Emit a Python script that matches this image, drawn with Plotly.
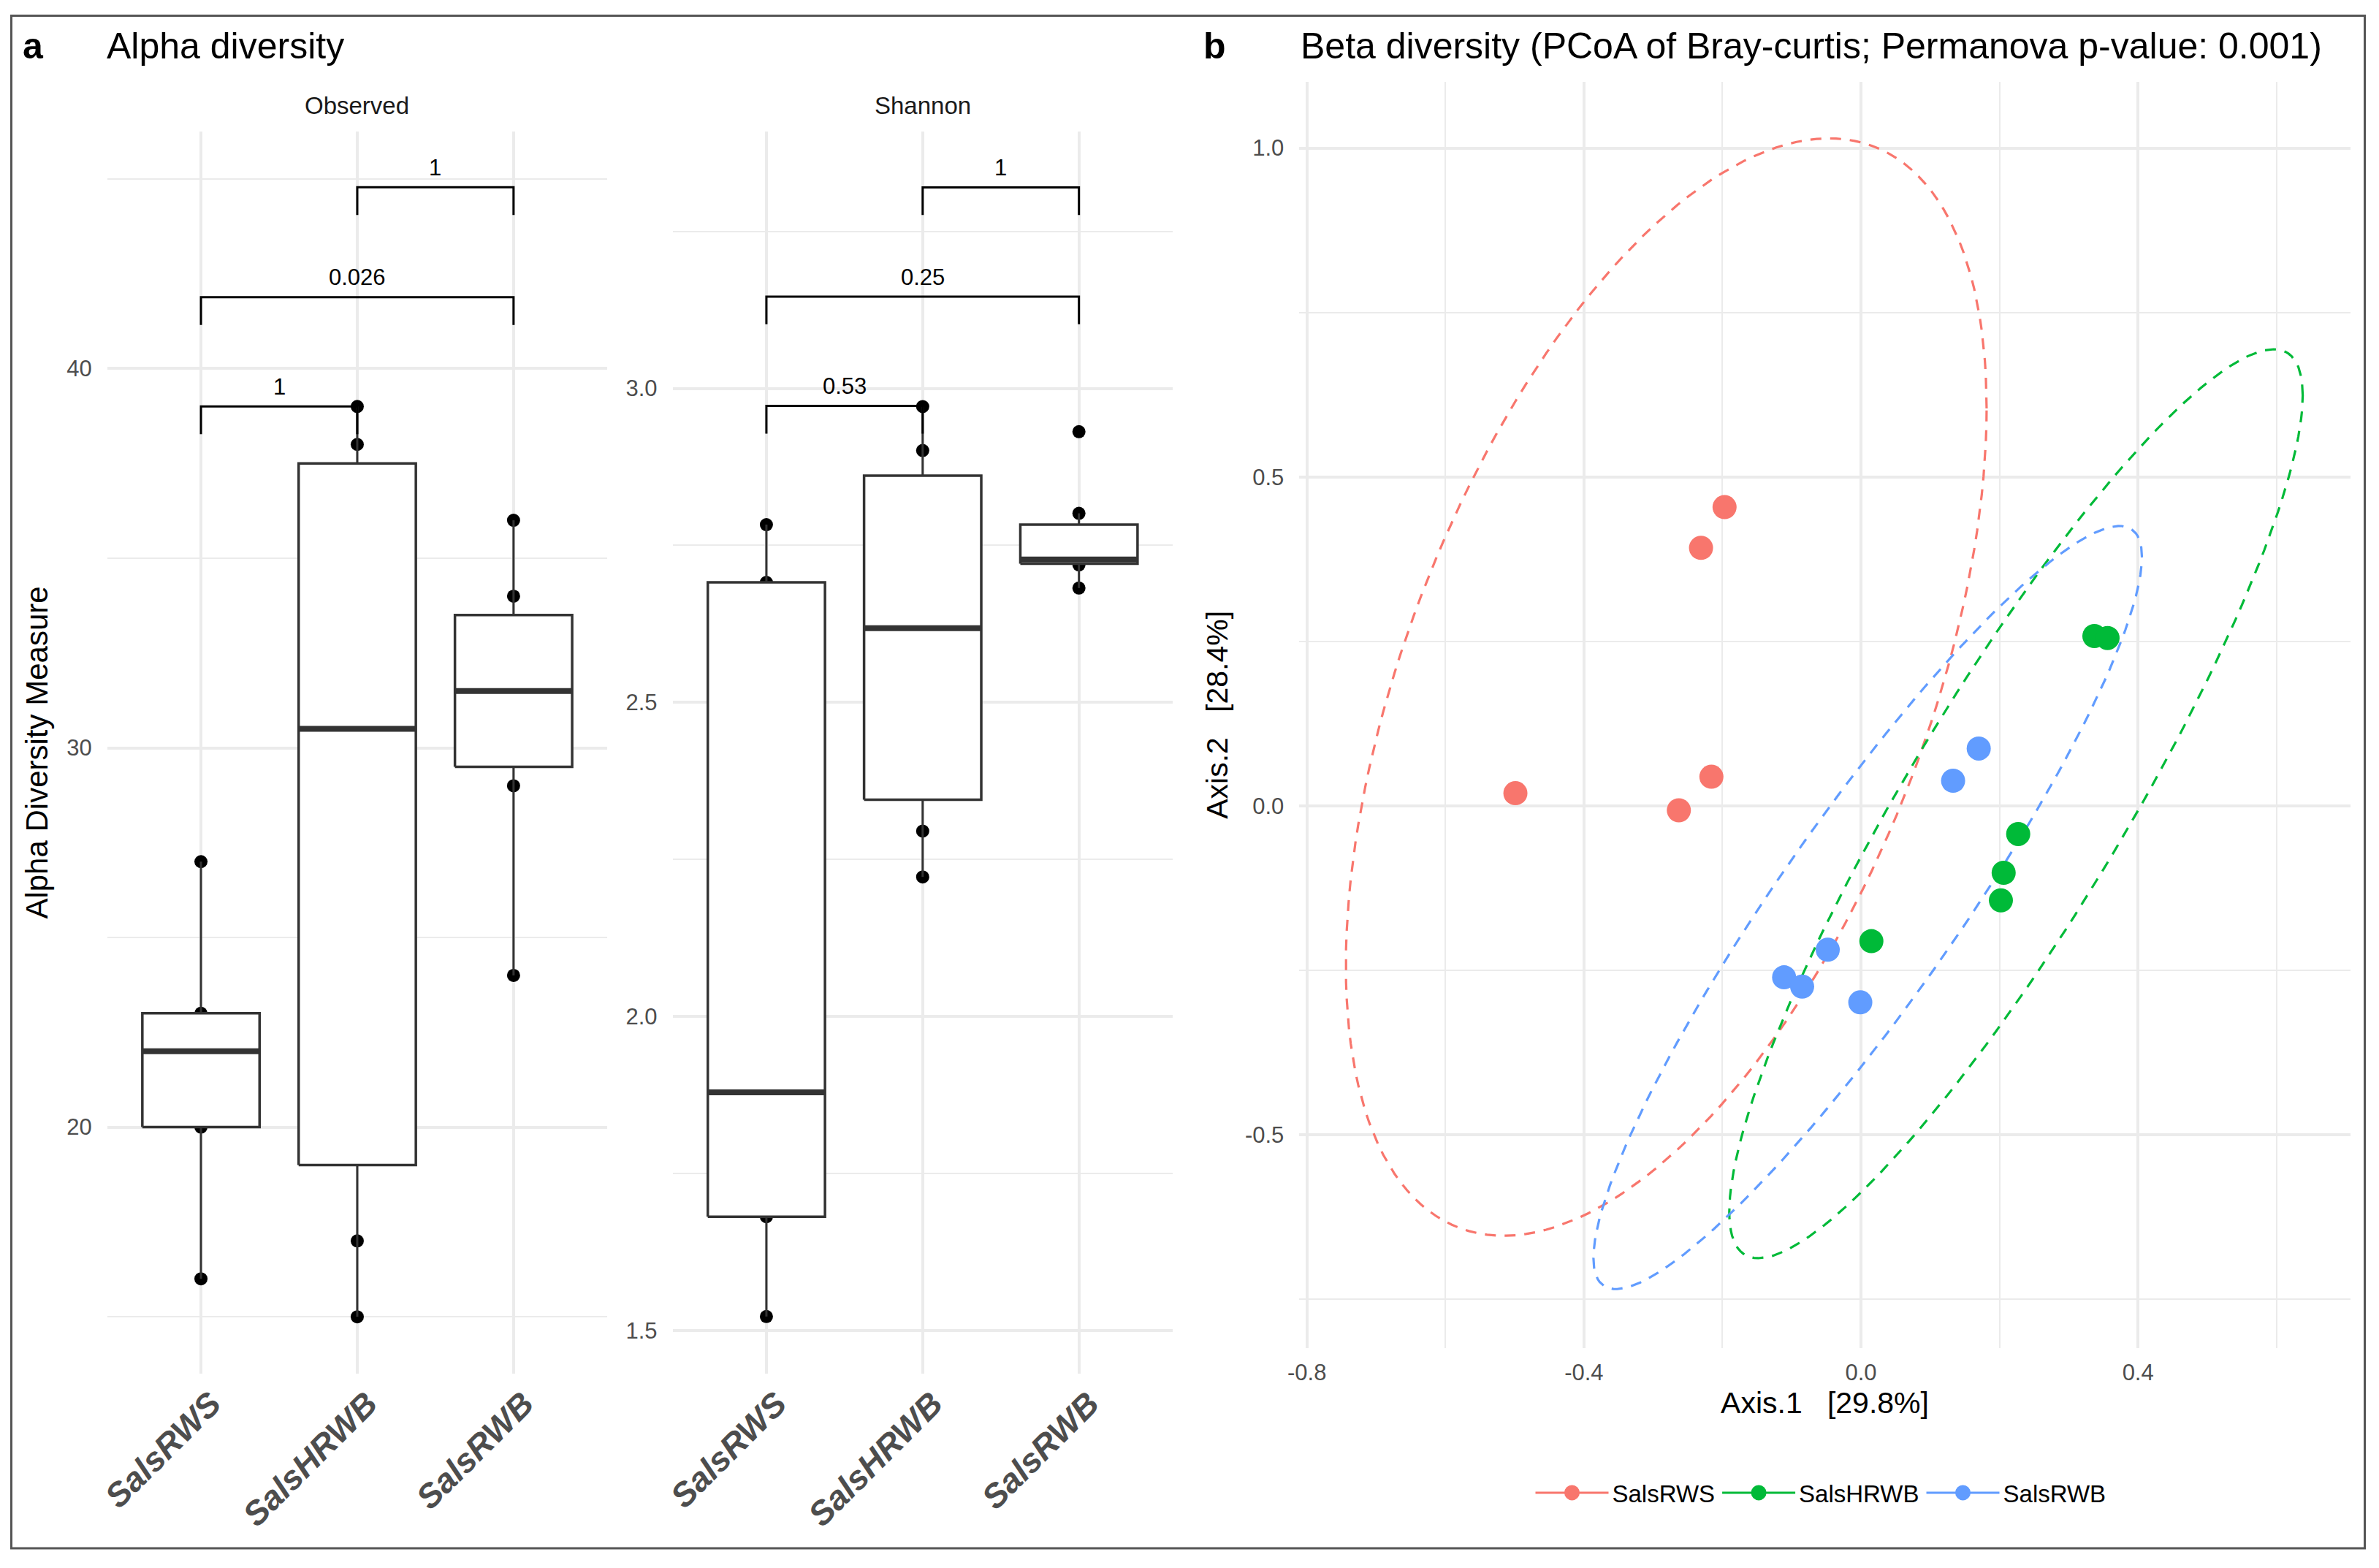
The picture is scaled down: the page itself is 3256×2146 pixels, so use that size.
import numpy as np
import plotly.graph_objects as go

W, H = 3256, 2146
FONT = "Liberation Sans, Arial, sans-serif"

# ---------------- data ----------------
groups = ["SalsRWS", "SalsHRWB", "SalsRWB"]
group_colors = ["#F8766D", "#00BA38", "#619CFF"]

# Alpha diversity: Observed richness per sample
observed_rws = [16, 20, 22, 23, 27]
observed_hrwb = [15, 17, 25, 36, 38, 39]
observed_rwb = [24, 29, 31, 32, 34, 36]

# Alpha diversity: Shannon index per sample
shannon_rws = [1.522, 1.681, 1.879, 2.691, 2.783]
shannon_hrwb = [2.222, 2.295, 2.495, 2.741, 2.901, 2.971]
shannon_rwb = [2.682, 2.719, 2.726, 2.729, 2.801, 2.931]

# Pairwise test brackets (group index pairs, bracket height, p-value label)
obs_pairs = [(1, 2), (1, 3), (2, 3)]
obs_bracket_y = [39.0, 41.88, 44.78]
obs_labels = ["1", "0.026", "1"]
sha_pairs = [(1, 2), (1, 3), (2, 3)]
sha_bracket_y = [2.972, 3.146, 3.32]
sha_labels = ["0.53", "0.25", "1"]

# Beta diversity: PCoA coordinates
pc1_rws = [-0.197, -0.231, -0.216, -0.263, -0.499]
pc2_rws = [0.454, 0.392, 0.044, -0.007, 0.019]
pc1_hrwb = [0.337, 0.356, 0.227, 0.206, 0.202, 0.015]
pc2_hrwb = [0.258, 0.255, -0.043, -0.102, -0.144, -0.206]
pc1_rwb = [0.170, 0.133, -0.048, -0.111, -0.085, -0.001]
pc2_rwb = [0.087, 0.038, -0.219, -0.261, -0.275, -0.299]

# 95% ellipse shape (scaled covariance) per group
ell_sxx = [0.2140, 0.1714, 0.1568]
ell_syy = [0.6960, 0.4775, 0.3366]
ell_sxy = [0.1960, 0.2570, 0.2110]

obs_ticks = [20, 30, 40]
obs_minor = [15, 25, 35, 45]
sha_ticks = [1.5, 2.0, 2.5, 3.0]
sha_minor = [1.75, 2.25, 2.75, 3.25]
pc1_ticks = [-0.8, -0.4, 0.0, 0.4]
pc1_ticktext = ["-0.8", "-0.4", "0.0", "0.4"]
pc1_minor = [-0.6, -0.2, 0.2, 0.6]
pc2_ticks = [-0.5, 0.0, 0.5, 1.0]
pc2_ticktext = ["-0.5", "0.0", "0.5", "1.0"]
pc2_minor = [-0.75, -0.25, 0.25, 0.75]

# ---------------- helpers ----------------
def px(xpix):
    return xpix / W

def py(ypix):
    return 1 - ypix / H

GRID = "#EBEBEB"
TICKCOL = "#4D4D4D"
BOXCOL = "#333333"
BOXW = 0.75

fig = go.Figure()


def add_boxes(samples, xa, ya):
    # points first; the white boxes are drawn over them (as in the original)
    for i, vals in enumerate(samples):
        pos = i + 1
        fig.add_trace(go.Scatter(
            x=[pos] * len(vals), y=vals, mode="markers",
            marker=dict(color="black", size=18), xaxis=xa, yaxis=ya,
            showlegend=False))
    for i, vals in enumerate(samples):
        pos = i + 1
        v = np.array(vals, dtype=float)
        q1, med, q3 = np.percentile(v, [25, 50, 75])
        iqr = q3 - q1
        lf = v[v >= q1 - 1.5 * iqr].min()
        uf = v[v <= q3 + 1.5 * iqr].max()
        l, r = pos - BOXW / 2, pos + BOXW / 2
        # whiskers
        fig.add_trace(go.Scatter(
            x=[pos, pos, None, pos, pos], y=[lf, q1, None, q3, uf], mode="lines",
            line=dict(color=BOXCOL, width=3), xaxis=xa, yaxis=ya,
            showlegend=False, hoverinfo="skip"))
        # box
        fig.add_trace(go.Scatter(
            x=[l, r, r, l, l], y=[q1, q1, q3, q3, q1], mode="lines",
            fill="toself", fillcolor="white",
            line=dict(color=BOXCOL, width=3.5), xaxis=xa, yaxis=ya,
            showlegend=False, hoverinfo="skip"))
        # median
        fig.add_trace(go.Scatter(
            x=[l, r], y=[med, med], mode="lines",
            line=dict(color=BOXCOL, width=8), xaxis=xa, yaxis=ya,
            showlegend=False, hoverinfo="skip"))


def add_brackets(pairs, ys, labels, tip, xa, ya):
    for (a, b), yv, lab in zip(pairs, ys, labels):
        fig.add_trace(go.Scatter(
            x=[a, a, b, b], y=[yv - tip, yv, yv, yv - tip], mode="lines",
            line=dict(color="black", width=3), xaxis=xa, yaxis=ya,
            showlegend=False, hoverinfo="skip"))
        fig.add_annotation(x=(a + b) / 2, y=yv, xref=xa, yref=ya, text=lab,
                           showarrow=False, xanchor="center", yanchor="middle",
                           yshift=27, font=dict(family=FONT, size=31, color="black"))


add_boxes([observed_rws, observed_hrwb, observed_rwb], "x", "y")
add_brackets(obs_pairs, obs_bracket_y, obs_labels, 0.73, "x", "y")
add_boxes([shannon_rws, shannon_hrwb, shannon_rwb], "x2", "y2")
add_brackets(sha_pairs, sha_bracket_y, sha_labels, 0.044, "x2", "y2")

# PCoA
pcs = [(pc1_rws, pc2_rws), (pc1_hrwb, pc2_hrwb), (pc1_rwb, pc2_rwb)]
t = np.linspace(0, 2 * np.pi, 181)
for g, (px1, px2), col, sxx, syy, sxy in zip(groups, pcs, group_colors,
                                             ell_sxx, ell_syy, ell_sxy):
    cx, cy = np.mean(px1), np.mean(px2)
    l11 = np.sqrt(sxx)
    l21 = sxy / l11
    l22 = np.sqrt(syy - l21 ** 2)
    ex = cx + l11 * np.cos(t)
    ey = cy + l21 * np.cos(t) + l22 * np.sin(t)
    fig.add_trace(go.Scatter(
        x=ex, y=ey, mode="lines", line=dict(color=col, width=3.2, dash="15px,12px"),
        xaxis="x3", yaxis="y3", showlegend=False, hoverinfo="skip"))
for g, (px1, px2), col in zip(groups, pcs, group_colors):
    fig.add_trace(go.Scatter(
        x=px1, y=px2, mode="markers", name=g,
        marker=dict(color=col, size=33), xaxis="x3", yaxis="y3",
        showlegend=False))
# legend entries (point + path key)
for g, col in zip(groups, group_colors):
    fig.add_trace(go.Scatter(
        x=[None], y=[None], mode="lines+markers", name=g,
        marker=dict(color=col, size=16, line=dict(color=col, width=5)),
        line=dict(color=col, width=3),
        xaxis="x3", yaxis="y3", showlegend=True))

# ---------------- layout ----------------
tickfont = dict(family=FONT, size=31, color=TICKCOL)
xcatfont = dict(family=FONT, size=46, color=TICKCOL, weight="bold", style="italic")


def minor(vals):
    return dict(tickvals=vals, showgrid=True, gridcolor=GRID, gridwidth=2, ticks="")


yl0, yl1 = py(1880), py(180)
common = dict(showline=False, zeroline=False, showgrid=True, gridcolor=GRID,
              gridwidth=4, ticks="", automargin=False)

fig.update_layout(
    template="none",
    width=W, height=H, margin=dict(l=0, r=0, t=0, b=0, pad=0),
    paper_bgcolor="white", plot_bgcolor="white",
    font=dict(family=FONT, color="black"),
    xaxis=dict(domain=[px(146.7), px(831.2)], range=[0.4, 3.6], anchor="y",
               tickvals=[1, 2, 3], ticktext=groups, tickangle=-45,
               tickfont=xcatfont, ticklabelstandoff=4, ticklabelshift=14, **common),
    yaxis=dict(domain=[yl0, yl1], range=[13.5, 46.25], anchor="x",
               tickvals=obs_ticks, minor=minor(obs_minor), tickfont=tickfont,
               ticklabelstandoff=20,
               title=dict(text="Alpha Diversity Measure", standoff=12,
                          font=dict(family=FONT, size=42, color="black")),
               **common),
    xaxis2=dict(domain=[px(920.6), px(1605)], range=[0.4, 3.6], anchor="y2",
                tickvals=[1, 2, 3], ticktext=groups, tickangle=-45,
                tickfont=xcatfont, ticklabelstandoff=4, ticklabelshift=14, **common),
    yaxis2=dict(domain=[yl0, yl1], range=[1.431, 3.409], anchor="x2",
                tickvals=sha_ticks, tickformat=".1f", minor=minor(sha_minor),
                tickfont=tickfont, ticklabelstandoff=20, **common),
    xaxis3=dict(domain=[px(1778.3), px(3216.7)], range=[-0.811, 0.7065], anchor="y3",
                tickvals=pc1_ticks, ticktext=pc1_ticktext, minor=minor(pc1_minor),
                tickfont=tickfont, ticklabelstandoff=12,
                title=dict(text="Axis.1\u00a0\u00a0\u00a0[29.8%]", standoff=10,
                           font=dict(family=FONT, size=41, color="black")),
                **common),
    yaxis3=dict(domain=[py(1845), py(111.7)], range=[-0.8247, 1.101], anchor="x3",
                tickvals=pc2_ticks, ticktext=pc2_ticktext, minor=minor(pc2_minor),
                tickfont=tickfont, ticklabelstandoff=20,
                title=dict(text="Axis.2\u00a0\u00a0\u00a0[28.4%]", standoff=10,
                           font=dict(family=FONT, size=41, color="black")),
                **common),
    legend=dict(orientation="h", x=px(2492), xanchor="center", y=py(2043),
                yanchor="middle", font=dict(family=FONT, size=33, color="black"),
                itemwidth=100, bgcolor="rgba(0,0,0,0)", borderwidth=0),
    showlegend=True,
)

# titles and tags
fig.add_annotation(x=px(29), y=py(63), xref="paper", yref="paper", text="<b>a</b>",
                   showarrow=False, xanchor="left", yanchor="middle",
                   font=dict(family=FONT, size=50, color="black"))
fig.add_annotation(x=px(144), y=py(63), xref="paper", yref="paper", text="Alpha diversity",
                   showarrow=False, xanchor="left", yanchor="middle",
                   font=dict(family=FONT, size=50, color="black"))
fig.add_annotation(x=px(1645), y=py(63), xref="paper", yref="paper", text="<b>b</b>",
                   showarrow=False, xanchor="left", yanchor="middle",
                   font=dict(family=FONT, size=50, color="black"))
fig.add_annotation(x=px(1778), y=py(63), xref="paper", yref="paper",
                   text="Beta diversity (PCoA of Bray-curtis; Permanova p-value: 0.001)",
                   showarrow=False, xanchor="left", yanchor="middle",
                   font=dict(family=FONT, size=50, color="black"))
# facet strips
fig.add_annotation(x=(px(146.7) + px(831.2)) / 2, y=py(145), xref="paper", yref="paper",
                   text="Observed", showarrow=False, xanchor="center", yanchor="middle",
                   font=dict(family=FONT, size=33, color="#1A1A1A"))
fig.add_annotation(x=(px(920.6) + px(1605)) / 2, y=py(145), xref="paper", yref="paper",
                   text="Shannon", showarrow=False, xanchor="center", yanchor="middle",
                   font=dict(family=FONT, size=33, color="#1A1A1A"))

# outer frame
fig.add_shape(type="rect", xref="paper", yref="paper",
              x0=px(15.5), x1=px(3236.5), y0=py(2119), y1=py(21.5),
              line=dict(color="#555555", width=3), fillcolor="rgba(0,0,0,0)")

fig.write_html("out.html", config={"displayModeBar": False},
               post_script="document.body.style.margin='0px';")
